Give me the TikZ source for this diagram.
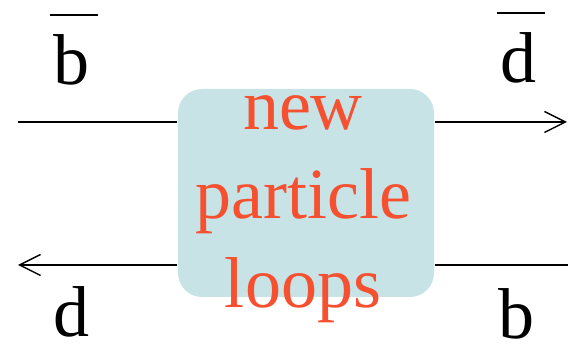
\documentclass[tikz,border=0pt]{standalone}
\usepackage{fontspec}
\setmainfont{Liberation Serif}
\usetikzlibrary{arrows.meta, positioning, calc}
\definecolor{cloop}{HTML}{C8E3E6}
\definecolor{cnew}{HTML}{F5502F}
\newcommand{\antiq}[1]{\vbox{\hrule width 48pt height 2pt \vskip 19pt \hbox to 48pt{\hfil #1\hfil\kern6pt}}}
\tikzset{
  every picture/.style={line width=1.4pt},
  blob/.style={fill=cloop, rounded corners=24pt, minimum width=256pt, minimum height=208pt, inner sep=0pt},
  blobtext/.style={text=cnew, align=center, inner sep=0pt, font=\fontsize{72}{89}\selectfont},
  quark/.style={font=\fontsize{72}{80}\selectfont, inner sep=0pt, anchor=base},
  line/.style={draw=black},
  arrow/.style={-{Straight Barb[length=21pt, width=21pt, line width=1.4pt]}, draw=black},
}

\begin{document}
\begin{tikzpicture}[x=1pt, y=-1pt]
  \useasboundingbox (0,0) rectangle (568,347);
  % free ends of the quark lines
  \coordinate (tl) at (18,122);
  \coordinate (tr) at (567,122);
  \coordinate (bl) at (18,265);
  \coordinate (br) at (568,265);
  % the box
  \node[blob] (blob) at (306,193) {};
  \draw[line] (tl) -- (tl -| blob.west);
  \draw[arrow] (tr -| blob.east) -- (tr);
  \draw[arrow] (bl -| blob.west) -- (bl);
  \draw[line] (br -| blob.east) -- (br);
  \node[blobtext] (loops) at (303,209) {new\\particle\\loops};
  % labels
  \node[quark] (bbar) at (74,85) {\antiq{b}};
  \node[quark] (dbar) at (521,83) {\antiq{d}};
  \node[quark] (d) at (71,337) {d};
  \node[quark] (b) at (516,339) {b};
\end{tikzpicture}
\end{document}
